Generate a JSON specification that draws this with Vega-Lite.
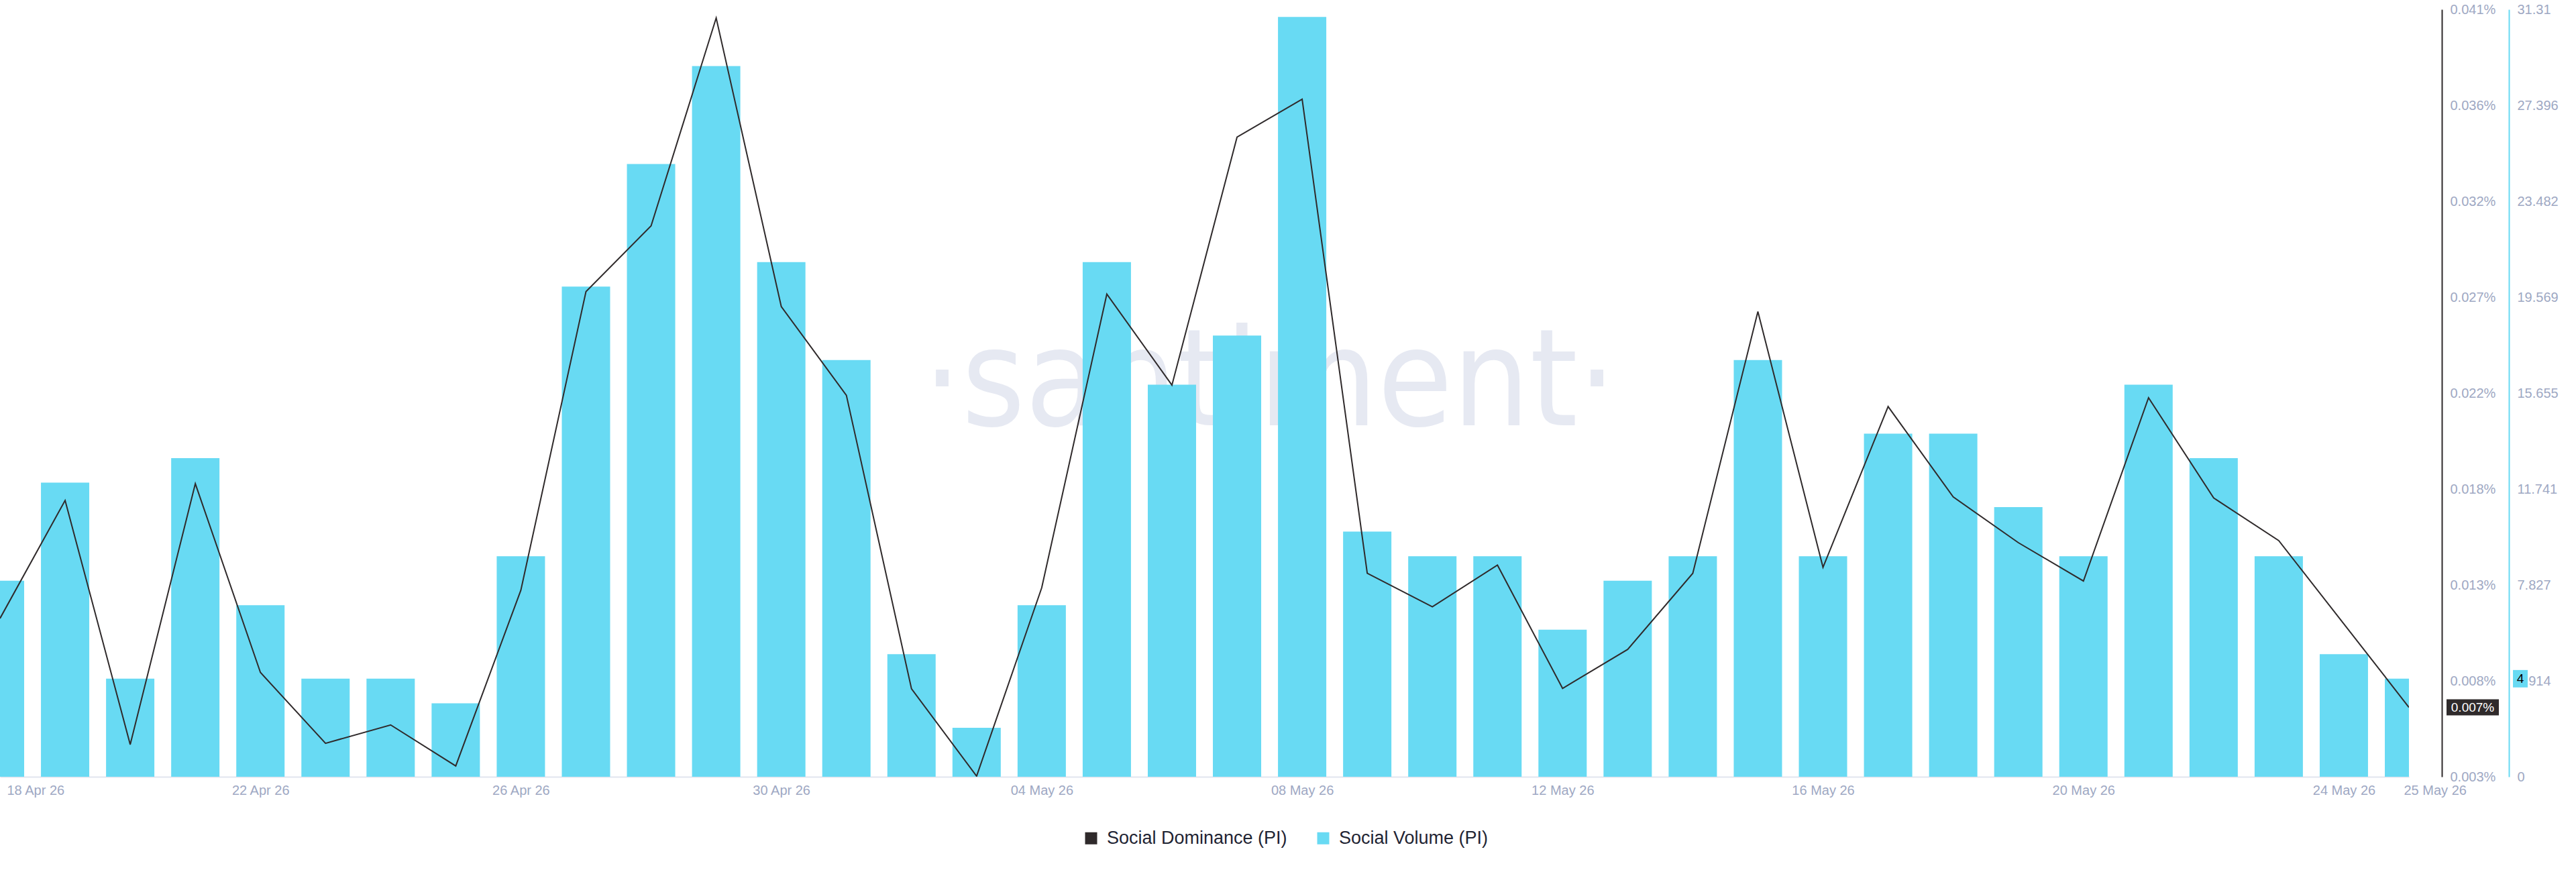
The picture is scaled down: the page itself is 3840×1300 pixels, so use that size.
{
  "$schema": "https://vega.github.io/schema/vega-lite/v6.json",
  "width": 3591,
  "height": 1144,
  "autosize": {"type": "none"},
  "padding": {"left": 0, "top": 14, "right": 249, "bottom": 142},
  "background": "#ffffff",
  "config": {"view": {"stroke": null}, "font": "Liberation Sans"},
  "datasets": {
    "series": [
      {"date": "2026-04-18", "volume": 8, "dominance": 0.01121},
      {"date": "2026-04-19", "volume": 12, "dominance": 0.01699},
      {"date": "2026-04-20", "volume": 4, "dominance": 0.00503},
      {"date": "2026-04-21", "volume": 13, "dominance": 0.01781},
      {"date": "2026-04-22", "volume": 7, "dominance": 0.00856},
      {"date": "2026-04-23", "volume": 4, "dominance": 0.00509},
      {"date": "2026-04-24", "volume": 4, "dominance": 0.00599},
      {"date": "2026-04-25", "volume": 3, "dominance": 0.00398},
      {"date": "2026-04-26", "volume": 9, "dominance": 0.01259},
      {"date": "2026-04-27", "volume": 20, "dominance": 0.02722},
      {"date": "2026-04-28", "volume": 25, "dominance": 0.03044},
      {"date": "2026-04-29", "volume": 29, "dominance": 0.04063},
      {"date": "2026-04-30", "volume": 21, "dominance": 0.02649},
      {"date": "2026-05-01", "volume": 17, "dominance": 0.02214},
      {"date": "2026-05-02", "volume": 5, "dominance": 0.00776},
      {"date": "2026-05-03", "volume": 2, "dominance": 0.00348},
      {"date": "2026-05-04", "volume": 7, "dominance": 0.01271},
      {"date": "2026-05-05", "volume": 21, "dominance": 0.0271},
      {"date": "2026-05-06", "volume": 16, "dominance": 0.02264},
      {"date": "2026-05-07", "volume": 18, "dominance": 0.03479},
      {"date": "2026-05-08", "volume": 31, "dominance": 0.03665},
      {"date": "2026-05-09", "volume": 10, "dominance": 0.01342},
      {"date": "2026-05-10", "volume": 9, "dominance": 0.01178},
      {"date": "2026-05-11", "volume": 9, "dominance": 0.01382},
      {"date": "2026-05-12", "volume": 6, "dominance": 0.00778},
      {"date": "2026-05-13", "volume": 8, "dominance": 0.00969},
      {"date": "2026-05-14", "volume": 9, "dominance": 0.01342},
      {"date": "2026-05-15", "volume": 17, "dominance": 0.02624},
      {"date": "2026-05-16", "volume": 9, "dominance": 0.01371},
      {"date": "2026-05-17", "volume": 14, "dominance": 0.02159},
      {"date": "2026-05-18", "volume": 14, "dominance": 0.01716},
      {"date": "2026-05-19", "volume": 11, "dominance": 0.01492},
      {"date": "2026-05-20", "volume": 9, "dominance": 0.01304},
      {"date": "2026-05-21", "volume": 16, "dominance": 0.02202},
      {"date": "2026-05-22", "volume": 13, "dominance": 0.01711},
      {"date": "2026-05-23", "volume": 9, "dominance": 0.01502},
      {"date": "2026-05-24", "volume": 5, "dominance": 0.01094},
      {"date": "2026-05-25", "volume": 4, "dominance": 0.00685}
    ]
  },
  "data": {"name": "series"},
  "layer": [
    {
      "layer": [
        {
          "data": {"values": [{"wm": "·santiment·"}]},
          "mark": {"type": "text", "font": "Liberation Sans Narrow, DejaVu Sans Condensed, Open Sans", "fontSize": 202, "color": "#e6e9f2", "align": "center", "baseline": "alphabetic"},
          "encoding": {
            "x": {"datum": {"year": 2026, "month": 5, "date": 7, "hours": 12, "minutes": 0, "utc": true}, "type": "temporal", "scale": {"type": "utc", "domain": [{"year": 2026, "month": 4, "date": 18, "utc": true}, {"year": 2026, "month": 5, "date": 25, "utc": true}], "nice": false, "padding": 0}},
            "y": {"datum": 14.34, "type": "quantitative"},
            "text": {"field": "wm"}
          }
        },
        {
          "mark": {"type": "bar", "width": 72, "clip": true},
          "encoding": {
            "x": {
              "field": "date", "type": "temporal",
              "scale": {"type": "utc", "domain": [{"year": 2026, "month": 4, "date": 18, "utc": true}, {"year": 2026, "month": 5, "date": 25, "utc": true}], "nice": false, "padding": 0},
              "axis": {
                "title": null, "grid": false, "ticks": false, "tickSize": 0,
                "domainColor": "#e1e5ef", "domainWidth": 2,
                "labelColor": "#9ea8c3", "labelFontSize": 20, "labelFont": "Liberation Sans", "labelPadding": 10,
                "labelOverlap": false, "labelFlush": false,
                "values": [
                  {"year": 2026, "month": 4, "date": 18, "utc": true},
                  {"year": 2026, "month": 4, "date": 22, "utc": true},
                  {"year": 2026, "month": 4, "date": 26, "utc": true},
                  {"year": 2026, "month": 4, "date": 30, "utc": true},
                  {"year": 2026, "month": 5, "date": 4, "utc": true},
                  {"year": 2026, "month": 5, "date": 8, "utc": true},
                  {"year": 2026, "month": 5, "date": 12, "utc": true},
                  {"year": 2026, "month": 5, "date": 16, "utc": true},
                  {"year": 2026, "month": 5, "date": 20, "utc": true},
                  {"year": 2026, "month": 5, "date": 24, "utc": true},
                  {"year": 2026, "month": 5, "date": 25, "utc": true}
                ],
                "labelExpr": "utcFormat(datum.value, '%d %b %y')",
                "labelAlign": {"condition": {"test": "utcdate(datum.value) == 18 || utcdate(datum.value) == 25", "value": "left"}, "value": "center"},
                "labelOffset": {"condition": [{"test": "utcdate(datum.value) == 18", "value": 10}, {"test": "utcdate(datum.value) == 25", "value": -8}], "value": 0}
              }
            },
            "y": {
              "field": "volume", "type": "quantitative",
              "scale": {"domain": [0, 31.31], "nice": false, "zero": true},
              "axis": {
                "orient": "right", "offset": 149, "title": null, "grid": false, "ticks": false, "tickSize": 0,
                "domainColor": "#68daf3", "domainWidth": 2,
                "labelColor": "#9ea8c3", "labelFontSize": 20, "labelFont": "Liberation Sans", "labelPadding": 12,
                "labelOverlap": false, "labelFlush": false, "labelBaseline": "middle",
                "values": [0, 3.91375, 7.8275, 11.74125, 15.655, 19.56875, 23.4825, 27.39625, 31.31],
                "labelExpr": "['0','3.914','7.827','11.741','15.655','19.569','23.482','27.396','31.31'][round(datum.value / 3.91375)]"
              }
            },
            "color": {
              "datum": "Social Volume (PI)",
              "scale": {"domain": ["Social Dominance (PI)", "Social Volume (PI)"], "range": ["#2f2a2b", "#68daf3"]},
              "legend": {
                "title": null, "orient": "none", "legendX": 1613, "legendY": 1222, "direction": "horizontal",
                "symbolType": "square", "symbolSize": 324, "symbolStrokeWidth": 0,
                "labelFontSize": 27, "labelFont": "Liberation Sans", "labelColor": "#1f2433", "labelLimit": 600,
                "labelOffset": 10, "columnPadding": 40, "padding": 0,
                "encode": {"symbols": {"update": {"fill": {"scale": "color", "field": "value"}, "fillOpacity": {"value": 1}, "strokeWidth": {"value": 0}, "shape": {"value": "square"}}}}
              }
            }
          }
        },
        {
          "transform": [{"filter": {"field": "date", "equal": {"year": 2026, "month": 5, "date": 25, "utc": true}}}],
          "mark": {"type": "point", "shape": "M-1,-1.18H1V1.18H-1Z", "filled": true, "opacity": 1, "size": 484, "color": "#68daf3", "xOffset": 166, "clip": false},
          "encoding": {
            "x": {"field": "date", "type": "temporal"},
            "y": {"field": "volume", "type": "quantitative"}
          }
        },
        {
          "transform": [{"filter": {"field": "date", "equal": {"year": 2026, "month": 5, "date": 25, "utc": true}}}],
          "mark": {"type": "text", "xOffset": 166, "color": "#000000", "fontSize": 19, "font": "Liberation Sans", "align": "center", "baseline": "middle", "clip": false},
          "encoding": {
            "x": {"field": "date", "type": "temporal"},
            "y": {"field": "volume", "type": "quantitative"},
            "text": {"field": "volume", "type": "quantitative"}
          }
        }
      ]
    },
    {
      "layer": [
        {
          "mark": {"type": "line", "strokeWidth": 2, "clip": true, "interpolate": "linear"},
          "encoding": {
            "x": {"field": "date", "type": "temporal"},
            "y": {
              "field": "dominance", "type": "quantitative",
              "scale": {"domain": [0.00345, 0.04105], "nice": false, "zero": false},
              "axis": {
                "orient": "right", "offset": 49, "title": null, "grid": false, "ticks": false, "tickSize": 0,
                "domainColor": "#2f2a2b", "domainWidth": 2,
                "labelColor": "#9ea8c3", "labelFontSize": 20, "labelFont": "Liberation Sans", "labelPadding": 12,
                "labelOverlap": false, "labelFlush": false, "labelBaseline": "middle",
                "values": [0.00345, 0.00815, 0.01285, 0.01755, 0.02225, 0.02695, 0.03165, 0.03635, 0.04105],
                "labelExpr": "format(datum.value, '.3f') + '%'"
              }
            },
            "color": {"datum": "Social Dominance (PI)"}
          }
        },
        {
          "transform": [{"filter": {"field": "date", "equal": {"year": 2026, "month": 5, "date": 25, "utc": true}}}],
          "mark": {"type": "point", "shape": "M-1,-0.3077H1V0.3077H-1Z", "filled": true, "opacity": 1, "size": 6084, "color": "#2f2a2b", "xOffset": 95, "clip": false},
          "encoding": {
            "x": {"field": "date", "type": "temporal"},
            "y": {"field": "dominance", "type": "quantitative"}
          }
        },
        {
          "transform": [
            {"filter": {"field": "date", "equal": {"year": 2026, "month": 5, "date": 25, "utc": true}}},
            {"calculate": "format(datum.dominance, '.3f') + '%'", "as": "lbl"}
          ],
          "mark": {"type": "text", "xOffset": 95, "color": "#ffffff", "fontSize": 19, "font": "Liberation Sans", "align": "center", "baseline": "middle", "clip": false},
          "encoding": {
            "x": {"field": "date", "type": "temporal"},
            "y": {"field": "dominance", "type": "quantitative"},
            "text": {"field": "lbl"}
          }
        }
      ]
    }
  ],
  "resolve": {"scale": {"y": "independent"}}
}
